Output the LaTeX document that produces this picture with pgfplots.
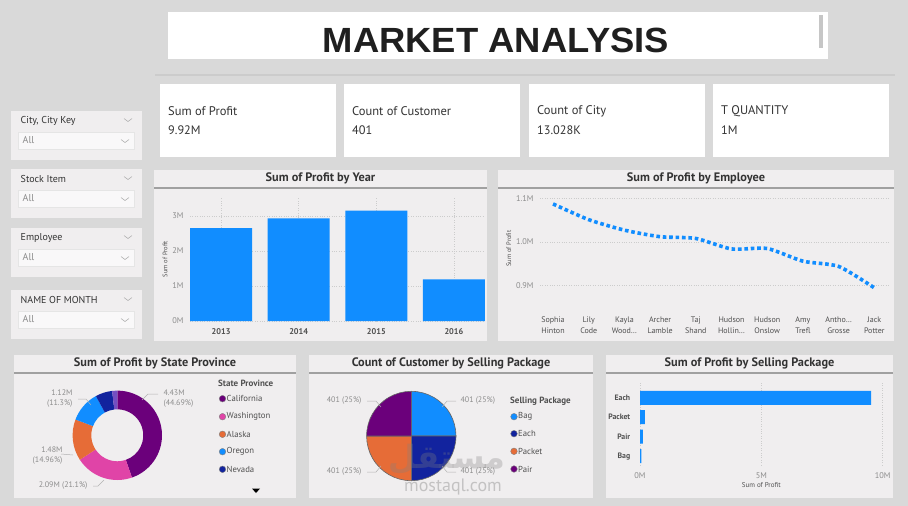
\documentclass[border=0pt]{standalone}
\usepackage{fontspec}
\setmainfont{PT Sans}
\newfontfamily\titlefont{Liberation Sans}
\newfontfamily\arabicfont[Script=Arabic]{DejaVu Sans}
\TeXXeTstate=1
\usepackage{pgfplots}
\pgfplotsset{compat=1.18}
\usepackage{pgfplotstable}

\definecolor{bg}{HTML}{D9D9D9}
\definecolor{panel}{HTML}{F0EEEF}
\definecolor{pbblue}{HTML}{118DFF}
\definecolor{cal}{HTML}{6B007B}
\definecolor{wash}{HTML}{E044A7}
\definecolor{alas}{HTML}{E66C37}
\definecolor{oreg}{HTML}{118DFF}
\definecolor{neva}{HTML}{12239E}
\definecolor{viol}{HTML}{744EC2}
\definecolor{tickgray}{HTML}{8C8C8C}
\definecolor{tickdark}{HTML}{505050}
\definecolor{dark}{HTML}{333333}
\definecolor{linegray}{HTML}{A0A0A0}

\pgfplotstableread{
yr profit
0 2.65
1 2.93
2 3.15
3 1.19
}\yeartable

\pgfplotstableread{
emp profit
0 1.087
1 1.051
2 1.027
3 1.012
4 1.008
5 0.984
6 0.985
7 0.956
8 0.944
9 0.895
}\emptable

\pgfplotstableread{
profit pkg
0.06 0
0.12 1
0.20 2
9.52 3
}\pkgtable

\newcommand\panel[5]{%
  \fill[panel] (#1,{-#2}) rectangle (#3,{-#4});
  \draw[linegray,line width=1.5pt] (#1,{-(#2+18)}) -- (#3,{-(#2+18)});
  \node[font=\fontsize{12.3}{14}\selectfont\bfseries,text=dark] at ({(#1+#3)/2},{-(#2+8.5)}) {#5};
}
\newcommand\slicer[2]{%
  \fill[panel] (11,{-#1}) rectangle (142,{-(#1+49)});
  \node[anchor=west,font=\fontsize{10}{12}\selectfont,text=dark,inner sep=0] at (20.5,{-(#1+10)}) {#2};
  \filldraw[fill=panel!40!white,draw=gray!20,line width=0.5] (18,{-(#1+21)}) rectangle (134,{-(#1+38)});
  \node[anchor=west,font=\fontsize{10}{12}\selectfont,text=tickgray,inner sep=0] at (22.5,{-(#1+29.5)}) {All};
  \draw[gray!60,line width=0.6] (124,{-(#1+7.5)}) -- (128,{-(#1+10.5)}) -- (132,{-(#1+7.5)});
  \draw[gray!60,line width=0.6] (121,{-(#1+28.5)}) -- (125,{-(#1+31.5)}) -- (129,{-(#1+28.5)});
}
\newcommand\card[4]{%
  \filldraw[fill=white,draw=gray!30,line width=0.8] (#1,-83) rectangle (#2,-157);
  \node[anchor=west,font=\fontsize{12.5}{14}\selectfont,text=dark,inner sep=0] at ({#1+9},-111) {#3};
  \node[anchor=west,font=\fontsize{12.3}{14}\selectfont,text=dark,inner sep=0] at ({#1+9},-130) {#4};
}
% donut slice: start%, end%, colour, outer r, inner r
\newcommand\donutslice[5]{%
  \fill[#3] (axis cs:0,0) ++({90-3.6*#1}:#4) arc[start angle={90-3.6*#1},end angle={90-3.6*#2},radius=#4]
    -- ++({270-3.6*#2}:{#4-#5}) arc[start angle={90-3.6*#2},end angle={90-3.6*#1},radius=#5] -- cycle;
}
\newcommand\pieslice[4]{%
  \filldraw[fill=#3,draw=black!60,line width=0.6] (axis cs:0,0) -- ++({90-3.6*#1}:#4)
    arc[start angle={90-3.6*#1},end angle={90-3.6*#2},radius=#4] -- cycle;
}
\newcommand\legdot[4]{% x, y, colour, text
  \filldraw[fill=#3,draw=black!50,line width=0.4] (#1,{-#2}) circle[radius=3.3];
  \node[anchor=west,font=\fontsize{8.7}{10}\selectfont,text=tickdark,inner sep=0] at ({#1+4},{-#2}) {#4};
}

\begin{document}
\begin{tikzpicture}[x=1pt,y=1pt]
\fill[bg] (0,0) rectangle (908,-506);

% title
\fill[white] (168,-12) rectangle (828,-59);
\fill[gray!45] (819,-15) rectangle (823,-48);
\node[font=\titlefont\bfseries\fontsize{35}{36}\selectfont,text=black!88,xscale=1.04] at (496,-40.5) {MARKET ANALYSIS};

% KPI cards
\draw[gray!40,line width=2pt] (155,-75) -- (895,-75);
\card{159}{336}{Sum of Profit}{9.92M}
\card{343}{520}{Count of Customer}{401}
\card{528}{705}{Count of City}{13.028K}
\card{712}{889}{T QUANTITY}{1M}

% slicers
\slicer{111}{City, City Key}
\slicer{169}{Stock Item}
\slicer{228}{Employee}
\slicer{290}{NAME OF MONTH}

% panels
\panel{154}{170}{487}{341}{Sum of Profit by Year}
\panel{498}{170}{894}{341}{Sum of Profit by Employee}
\panel{14}{355}{296}{498}{Sum of Profit by State Province}
\panel{309}{355}{593}{498}{Count of Customer by Selling Package}
\panel{606}{355}{893}{498}{Sum of Profit by Selling Package}

\pgfplotsset{every axis/.append style={grid style={dotted,gray!40,line width=0.8pt}}}

% bar chart by year
\begin{axis}[at={(190pt,-321pt)},anchor=south west,scale only axis,
  width=295pt,height=124pt,
  xmin=-0.4,xmax=3.4,ymin=0,ymax=3.54,
  ybar,bar width=62pt,
  axis line style={draw=none},tick style={draw=none},
  xtick={0,1,2,3},xticklabels={2013,2014,2015,2016},
  ytick={0,1,2,3},yticklabels={0M,1M,2M,3M},
  xmajorgrids,ymajorgrids,
  xticklabel style={font=\fontsize{8.3}{9}\selectfont\bfseries,text=tickdark,yshift=0pt},
  yticklabel style={font=\fontsize{8.3}{9}\selectfont,text=tickgray,xshift=-3pt},
  ylabel={Sum of Profit},
  ylabel style={font=\fontsize{6.5}{7}\selectfont,text=tickdark,yshift=-2pt},
]
\addplot[fill=pbblue,draw=none] table[x=yr,y=profit] {\yeartable};
\end{axis}

% line chart by employee
\begin{axis}[at={(540pt,-307.5pt)},anchor=south west,scale only axis,
  width=348.6pt,height=118pt,
  xmin=-0.365,xmax=9.4,ymin=0.85,ymax=1.12,
  axis line style={draw=none},tick style={draw=none},
  xtick={0,...,9},
  xticklabels={{Sophia\\Hinton},{Lily\\Code},{Kayla\\Wood…},{Archer\\Lamble},{Taj\\Shand},{Hudson\\Hollin…},{Hudson\\Onslow},{Amy\\Trefl},{Antho…\\Grosse},{Jack\\Potter}},
  ytick={0.9,1.0,1.1},yticklabels={0.9M,1.0M,1.1M},
  ymajorgrids,
  xticklabel style={font=\fontsize{8}{11}\selectfont,text=tickdark,align=center,yshift=-6pt},
  yticklabel style={font=\fontsize{8.3}{9}\selectfont,text=tickgray,xshift=-3pt},
  ylabel={Sum of Profit},
  ylabel style={font=\fontsize{6.5}{7}\selectfont,text=tickdark,yshift=-2pt},
]
\addplot[pbblue,line width=3.6pt,dash pattern=on 3.6pt off 2.8pt,smooth,tension=0.4] table[x=emp,y=profit] {\emptable};
\end{axis}

% horizontal bar chart
\begin{axis}[at={(640pt,-465pt)},anchor=south west,scale only axis,
  width=242.7pt,height=82pt,
  xmin=0,xmax=10,ymin=-0.46,ymax=3.76,
  xbar,bar width=14pt,
  axis line style={draw=none},tick style={draw=none},
  xtick={0,5,10},xticklabels={0M,5M,10M},
  ytick={0,1,2,3},yticklabels={Bag,Pair,Packet,Each},
  xmajorgrids,
  xticklabel style={font=\fontsize{8.3}{9}\selectfont,text=tickgray,yshift=-4pt},
  yticklabel style={font=\fontsize{7.8}{9}\selectfont\bfseries,text=tickdark,xshift=-2pt},
  xlabel={Sum of Profit},
  xlabel style={font=\fontsize{7}{8}\selectfont,text=tickdark,yshift=3pt},
]
\addplot[fill=pbblue,draw=none] table[x=profit,y=pkg] {\pkgtable};
\end{axis}

% donut
\begin{axis}[hide axis,scale only axis,width=100pt,height=100pt,
  at={(117.3pt,-435.3pt)},anchor=center,xmin=-50,xmax=50,ymin=-50,ymax=50,clip=false]
\donutslice{0}{44.69}{cal}{44.7pt}{26pt}
\donutslice{44.69}{65.79}{wash}{44.7pt}{26pt}
\donutslice{65.79}{80.75}{alas}{44.7pt}{26pt}
\donutslice{80.75}{92.05}{oreg}{44.7pt}{26pt}
\donutslice{92.05}{98.15}{neva}{44.7pt}{26pt}
\donutslice{98.15}{100}{viol}{44.7pt}{26pt}
\end{axis}

% donut labels
\begin{scope}[font=\fontsize{8}{9.5}\selectfont,text=tickgray]
\node[anchor=west,align=left] at (160,-398.5) {4.43M\\(44.69\%)};
\node[anchor=east,align=right] at (76,-398.5) {1.12M\\(11.3\%)};
\node[anchor=east,align=right] at (66,-455.5) {1.48M\\(14.96\%)};
\node[anchor=east] at (91,-486) {2.09M (21.1\%)};
\end{scope}
\draw[gray!60,line width=0.5] (142,-400) -- (148,-394) -- (158,-394);
\draw[gray!60,line width=0.5] (91,-405) -- (86,-399) -- (78,-399);
\draw[gray!60,line width=0.5] (61,-454) -- (73,-455);
\draw[gray!60,line width=0.5] (93,-486) -- (98,-486) -- (104,-480);

% donut legend
\node[anchor=west,font=\fontsize{9}{10}\selectfont\bfseries,text=tickdark,inner sep=0] at (218,-383.7) {State Province};
\legdot{222.5}{398.7}{cal}{California}
\legdot{222.5}{416.7}{wash}{Washington}
\legdot{222.5}{434.3}{alas}{Alaska}
\legdot{222.5}{451.7}{oreg}{Oregon}
\legdot{222.5}{469.3}{neva}{Nevada}
\fill[black] (252,-488.5) -- (260,-488.5) -- (256,-493) -- cycle;

% pie
\begin{axis}[hide axis,scale only axis,width=100pt,height=100pt,
  at={(411.3pt,-436pt)},anchor=center,xmin=-50,xmax=50,ymin=-50,ymax=50,clip=false]
\pieslice{0}{25}{pbblue}{44.7pt}
\pieslice{25}{50}{neva}{44.7pt}
\pieslice{50}{75}{alas}{44.7pt}
\pieslice{75}{100}{cal}{44.7pt}
\end{axis}
\begin{scope}[font=\fontsize{8}{9.5}\selectfont,text=tickgray]
\node[anchor=west] at (457,-401) {401 (25\%)};
\node[anchor=east] at (365,-401) {401 (25\%)};
\node[anchor=east] at (365,-472) {401 (25\%)};
\node[anchor=west] at (457,-472) {401 (25\%)};
\end{scope}
\draw[gray!60,line width=0.5] (442,-407) -- (447,-401) -- (456,-401);
\draw[gray!60,line width=0.5] (381,-407) -- (376,-401) -- (367,-401);
\draw[gray!60,line width=0.5] (381,-466) -- (376,-472) -- (367,-472);
\draw[gray!60,line width=0.5] (442,-466) -- (447,-472) -- (456,-472);

% pie legend
\node[anchor=west,font=\fontsize{9}{10}\selectfont\bfseries,text=tickdark,inner sep=0] at (510,-401) {Selling Package};
\legdot{514}{416.7}{pbblue}{Bag}
\legdot{514}{433.7}{neva}{Each}
\legdot{514}{451.3}{alas}{Packet}
\legdot{514}{469}{cal}{Pair}

% watermark
\node[text=gray,opacity=0.3,font=\arabicfont\bfseries\fontsize{32}{32}\selectfont] at (447,-459) {\beginR مستقل\endR};
\node[text=gray,opacity=0.4,font=\fontsize{18}{18}\selectfont] at (453,-487) {mostaql.com};

\pgfresetboundingbox
\useasboundingbox (0,0) rectangle (908,-506);
\end{tikzpicture}
\end{document}
